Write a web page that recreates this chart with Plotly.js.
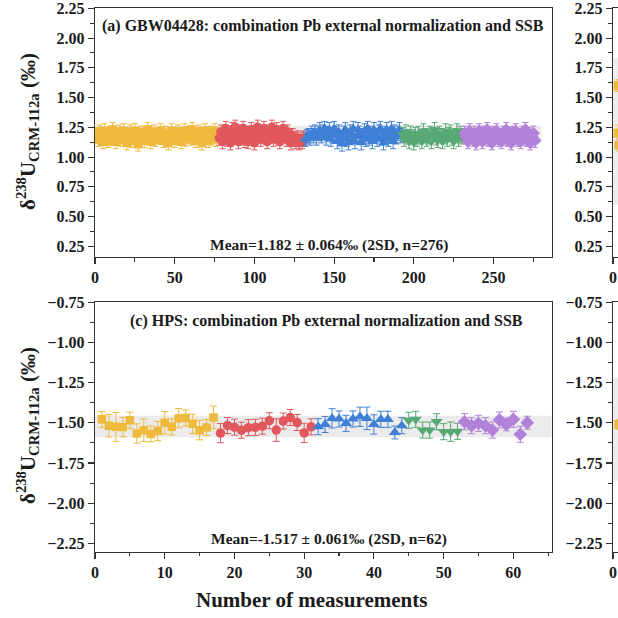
<!DOCTYPE html>
<html>
<head>
<meta charset="utf-8">
<script src="https://cdn.plot.ly/plotly-3.0.1.min.js"></script>
<style>
  html, body { margin: 0; padding: 0; background: #fff; }
  #chart { width: 618px; height: 618px; }
</style>
</head>
<body>
<div id="chart"></div>
<script>
"use strict";

// ----------------------------
// Data
// ----------------------------

// (a) GBW04428, 276 measurements, five sessions
const A_YELLOW = [
  1.19, 1.15, 1.21, 1.17, 1.13, 1.22, 1.18, 1.14, 1.16, 1.20,
  1.23, 1.18, 1.13, 1.16, 1.21, 1.15, 1.19, 1.22, 1.16, 1.12,
  1.18, 1.21, 1.14, 1.17, 1.22, 1.19, 1.11, 1.16, 1.20, 1.18,
  1.14, 1.17, 1.23, 1.19, 1.13, 1.16, 1.21, 1.15, 1.18, 1.17,
  1.22, 1.19, 1.14, 1.20, 1.16, 1.12, 1.18, 1.22, 1.17, 1.14,
  1.19, 1.21, 1.16, 1.13, 1.18, 1.22, 1.15, 1.19, 1.20, 1.16,
  1.23, 1.18, 1.14, 1.17, 1.21, 1.19, 1.12, 1.16, 1.22, 1.18,
  1.14, 1.20, 1.16, 1.19, 1.22, 1.15, 1.18
];
const A_RED = [
  1.16, 1.21, 1.13, 1.18, 1.24, 1.15, 1.20, 1.12, 1.23, 1.17,
  1.25, 1.18, 1.13, 1.21, 1.16, 1.24, 1.14, 1.20, 1.13, 1.18,
  1.23, 1.16, 1.12, 1.21, 1.25, 1.18, 1.15, 1.20, 1.24, 1.17,
  1.13, 1.21, 1.18, 1.25, 1.15, 1.20, 1.23, 1.16, 1.13, 1.19,
  1.24, 1.20, 1.15, 1.21, 1.17, 1.12, 1.18, 1.15, 1.13, 1.16,
  1.12, 1.15, 1.13, 1.16
];
const A_BLUE = [
  1.15, 1.17, 1.18, 1.16, 1.20, 1.18, 1.21, 1.16, 1.20, 1.23,
  1.18, 1.21, 1.24, 1.16, 1.20, 1.23, 1.15, 1.18, 1.24, 1.20,
  1.13, 1.21, 1.16, 1.11, 1.20, 1.23, 1.15, 1.12, 1.21, 1.18,
  1.24, 1.13, 1.17, 1.23, 1.20, 1.12, 1.18, 1.22, 1.15, 1.24,
  1.16, 1.20, 1.13, 1.23, 1.18, 1.15, 1.21, 1.24, 1.16, 1.12,
  1.20, 1.23, 1.15, 1.18, 1.24, 1.13, 1.21, 1.17, 1.20, 1.23,
  1.18
];
const A_GREEN = [
  1.19, 1.15, 1.21, 1.17, 1.13, 1.20, 1.17, 1.12, 1.19, 1.15,
  1.20, 1.17, 1.13, 1.22, 1.18, 1.15, 1.17, 1.20, 1.13, 1.19,
  1.23, 1.16, 1.14, 1.20, 1.18, 1.13, 1.17, 1.22, 1.15, 1.19,
  1.21, 1.16, 1.13, 1.18, 1.22, 1.15, 1.20, 1.17, 1.18
];
const A_PURPLE = [
  1.20, 1.17, 1.13, 1.22, 1.18, 1.15, 1.20, 1.12, 1.17, 1.22,
  1.19, 1.13, 1.20, 1.16, 1.23, 1.15, 1.19, 1.12, 1.20, 1.17,
  1.22, 1.15, 1.18, 1.13, 1.20, 1.16, 1.23, 1.15, 1.19, 1.12,
  1.20, 1.17, 1.22, 1.15, 1.18, 1.13, 1.20, 1.16, 1.23, 1.15,
  1.19, 1.12, 1.17, 1.20, 1.14
];
// 2SD per session (roughly constant in the picture)
const A_ERR = [0.06, 0.06, 0.06, 0.06, 0.06];
const A_BAND = [1.105, 1.262];
const A_BAND_X = [0, 280];

// (c) HPS, 62 measurements
const C_YELLOW = [-1.478, -1.518, -1.525, -1.526, -1.484, -1.566, -1.546, -1.569, -1.551, -1.500,
  -1.525, -1.471, -1.470, -1.506, -1.546, -1.529, -1.466];
const C_YELLOW_ERR = [0.05, 0.07, 0.09, 0.06, 0.05, 0.06, 0.07, 0.05, 0.06, 0.07, 0.05, 0.06, 0.05, 0.06, 0.06, 0.05, 0.07];
const C_RED = [-1.564, -1.517, -1.527, -1.546, -1.530, -1.528, -1.521, -1.487, -1.545, -1.489,
  -1.467, -1.498, -1.563, -1.525];
const C_RED_ERR = [0.06, 0.05, 0.05, 0.05, 0.05, 0.05, 0.05, 0.05, 0.07, 0.05, 0.05, 0.05, 0.06, 0.05];
const C_BLUE = [-1.524, -1.510, -1.472, -1.476, -1.503, -1.476, -1.462, -1.472, -1.510, -1.478,
  -1.478, -1.560, -1.518];
const C_BLUE_ERR = [0.05, 0.05, 0.06, 0.05, 0.05, 0.05, 0.06, 0.07, 0.06, 0.05, 0.05, 0.04, 0.05];
const C_GREEN = [-1.484, -1.478, -1.545, -1.545, -1.493, -1.555, -1.555, -1.553];
const C_GREEN_ERR = [0.05, 0.05, 0.05, 0.05, 0.05, 0.05, 0.06, 0.05];
const C_PURPLE = [-1.493, -1.518, -1.503, -1.518, -1.545, -1.482, -1.510, -1.478, -1.571, -1.499];
const C_PURPLE_ERR = [0.05, 0.05, 0.05, 0.05, 0.05, 0.05, 0.04, 0.05, 0.05, 0.04];
const C_BAND = [-1.456, -1.590];

// (b) and (d): only the left edge is in the picture
const B_Y = [1.60, 1.20, 1.10];
const B_ERR = [0.05, 0.07, 0.05];
const B_BAND = [0.60, 1.83];
const D_Y = [-1.51];
const D_ERR = [0.03];
const D_BAND = [-1.22, -1.86];

const TITLE_A = "(a) GBW04428: combination Pb external normalization and SSB";
const TITLE_C = "(c) HPS: combination Pb external normalization and SSB";
const MEAN_A = "Mean=1.182 ± 0.064‰ (2SD, n=276)";
const MEAN_C = "Mean=-1.517 ± 0.061‰ (2SD, n=62)";
const XTITLE = "Number of measurements";
const YTITLE = "δ<sup>238</sup>U<sub>CRM-112a</sub> (‰)";

// ----------------------------
// Styles
// ----------------------------
const COLORS = ["#EFBA3C", "#E2575C", "#3F80D6", "#57A973", "#B282DA"];
const SYMBOLS = ["square", "circle", "triangle-up", "triangle-down", "diamond"];
const SERIF = "Liberation Serif, Times New Roman, serif";
const INK = "#1a1a1a";
const PX = 618;

function consecutive(start, n) {
  return Array.from({ length: n }, (_, i) => start + i);
}

function session(xs, ys, err, k, size, axes, cap) {
  return {
    x: xs, y: ys,
    xaxis: axes[0], yaxis: axes[1],
    type: "scatter", mode: "markers",
    marker: { symbol: SYMBOLS[k], color: COLORS[k], size: size, line: { width: 0 } },
    error_y: Array.isArray(err)
      ? { type: "data", array: err, visible: true, color: COLORS[k], thickness: 1, width: cap }
      : { type: "constant", value: err, visible: true, color: COLORS[k], thickness: 1, width: cap },
    hoverinfo: "skip",
    showlegend: false,
  };
}

const data = [];

// (a)
const groupsA = [A_YELLOW, A_RED, A_BLUE, A_GREEN, A_PURPLE];
const sizesA = [9, 9.5, 10, 10, 10];
let startA = 1;
groupsA.forEach((ys, k) => {
  data.push(session(consecutive(startA, ys.length), ys, A_ERR[k], k, sizesA[k], ["x", "y"], 3));
  startA += ys.length;
});

// (c)
const groupsC = [
  [C_YELLOW, C_YELLOW_ERR], [C_RED, C_RED_ERR], [C_BLUE, C_BLUE_ERR],
  [C_GREEN, C_GREEN_ERR], [C_PURPLE, C_PURPLE_ERR],
];
const sizesC = [8.5, 9.5, 10.5, 10.5, 10.5];
let startC = 1;
groupsC.forEach(([ys, es], k) => {
  data.push(session(consecutive(startC, ys.length), ys, es, k, sizesC[k], ["x2", "y2"], 3.5));
  startC += ys.length;
});

// (b), (d) edges
data.push(session([2, 2, 2.4], B_Y, B_ERR, 0, 9, ["x3", "y3"], 3));
data.push(session([2.3], D_Y, D_ERR, 0, 9, ["x4", "y4"], 3));

// ----------------------------
// Axes
// ----------------------------
const LEFT = 95 / PX, RIGHT = 551.7 / PX, EDGE = 613 / PX;
const TOP_A = 1 - 8.3 / PX, BOT_A = 1 - 257 / PX;
const TOP_C = 1 - 302.3 / PX, BOT_C = 1 - 551.7 / PX;
const RANGE_A = [0.16, 2.2502];
const RANGE_C = [-2.302, -0.7498];

function axisBase() {
  return {
    showline: true, linecolor: "#333", linewidth: 1.2, mirror: true,
    ticks: "outside", ticklen: 6, tickwidth: 1.1, tickcolor: "#333",
    showgrid: false, zeroline: false,
    tickfont: { family: SERIF, size: 16, color: INK, weight: "bold" },
    ticklabeloverflow: "allow",
    fixedrange: true,
  };
}

function xAxis(domain, range, dtick, anchor) {
  return Object.assign(axisBase(), {
    domain: domain, range: range, dtick: dtick, tick0: 0, anchor: anchor,
    minor: { ticks: "outside", ticklen: 3.5, dtick: dtick / 2, tickcolor: "#333", showgrid: false },
  });
}

function yAxis(domain, range, anchor) {
  return Object.assign(axisBase(), {
    domain: domain, range: range, dtick: 0.25, tick0: 0, tickformat: ".2f", anchor: anchor,
    ticklabelstandoff: 0,
    minor: { ticks: "outside", ticklen: 3.5, dtick: 0.125, tickcolor: "#333", showgrid: false },
  });
}

const xEdge = (anchor) => Object.assign(axisBase(), {
  domain: [EDGE, 1], range: [0, 2], tickvals: [0], ticktext: ["0"], anchor: anchor,
});

const layout = {
  width: PX, height: PX,
  margin: { l: 0, r: 0, t: 0, b: 0 },
  paper_bgcolor: "#fff", plot_bgcolor: "#fff",
  showlegend: false,
  xaxis: xAxis([LEFT, RIGHT], [0, 286.5], 50, "y"),
  yaxis: yAxis([BOT_A, TOP_A], RANGE_A, "x"),
  xaxis2: xAxis([LEFT, RIGHT], [0, 65.5], 10, "y2"),
  yaxis2: yAxis([BOT_C, TOP_C], RANGE_C, "x2"),
  xaxis3: xEdge("y3"),
  yaxis3: yAxis([BOT_A, TOP_A], RANGE_A, "x3"),
  xaxis4: xEdge("y4"),
  yaxis4: yAxis([BOT_C, TOP_C], RANGE_C, "x4"),
  shapes: [
    { type: "rect", xref: "x", yref: "y", x0: A_BAND_X[0], x1: A_BAND_X[1], y0: A_BAND[0], y1: A_BAND[1],
      fillcolor: "#ebebeb", line: { width: 0 }, layer: "below" },
    { type: "rect", xref: "x2", yref: "y2", x0: 0, x1: 65.5, y0: C_BAND[0], y1: C_BAND[1],
      fillcolor: "#ebebeb", line: { width: 0 }, layer: "below" },
    { type: "rect", xref: "x3", yref: "y3", x0: 0, x1: 2, y0: B_BAND[0], y1: B_BAND[1],
      fillcolor: "#ededed", line: { width: 0 }, layer: "below" },
    { type: "rect", xref: "x4", yref: "y4", x0: 0, x1: 2, y0: D_BAND[0], y1: D_BAND[1],
      fillcolor: "#ededed", line: { width: 0 }, layer: "below" },
  ],
  annotations: [],
};

function note(text, xpx, ypx, size, extra) {
  return Object.assign({
    text: text, xref: "paper", yref: "paper",
    x: xpx / PX, y: 1 - ypx / PX, xanchor: "center", yanchor: "middle",
    showarrow: false,
    font: { family: SERIF, size: size, color: INK, weight: "bold" },
  }, extra || {});
}

layout.annotations.push(note(TITLE_A, 322.5, 26, 16));
layout.annotations.push(note(TITLE_C, 326.5, 321, 16));
layout.annotations.push(note(MEAN_A, 328.5, 245, 15.5));
layout.annotations.push(note(MEAN_C, 328.5, 539, 15.5));
layout.annotations.push(note(XTITLE, 311.5, 600, 21));
layout.annotations.push(note(YTITLE, 27, 132, 21, { textangle: -90 }));
layout.annotations.push(note(YTITLE, 27, 426, 21, { textangle: -90 }));

Plotly.newPlot("chart", data, layout, { displayModeBar: false, staticPlot: true });
</script>
</body>
</html>
